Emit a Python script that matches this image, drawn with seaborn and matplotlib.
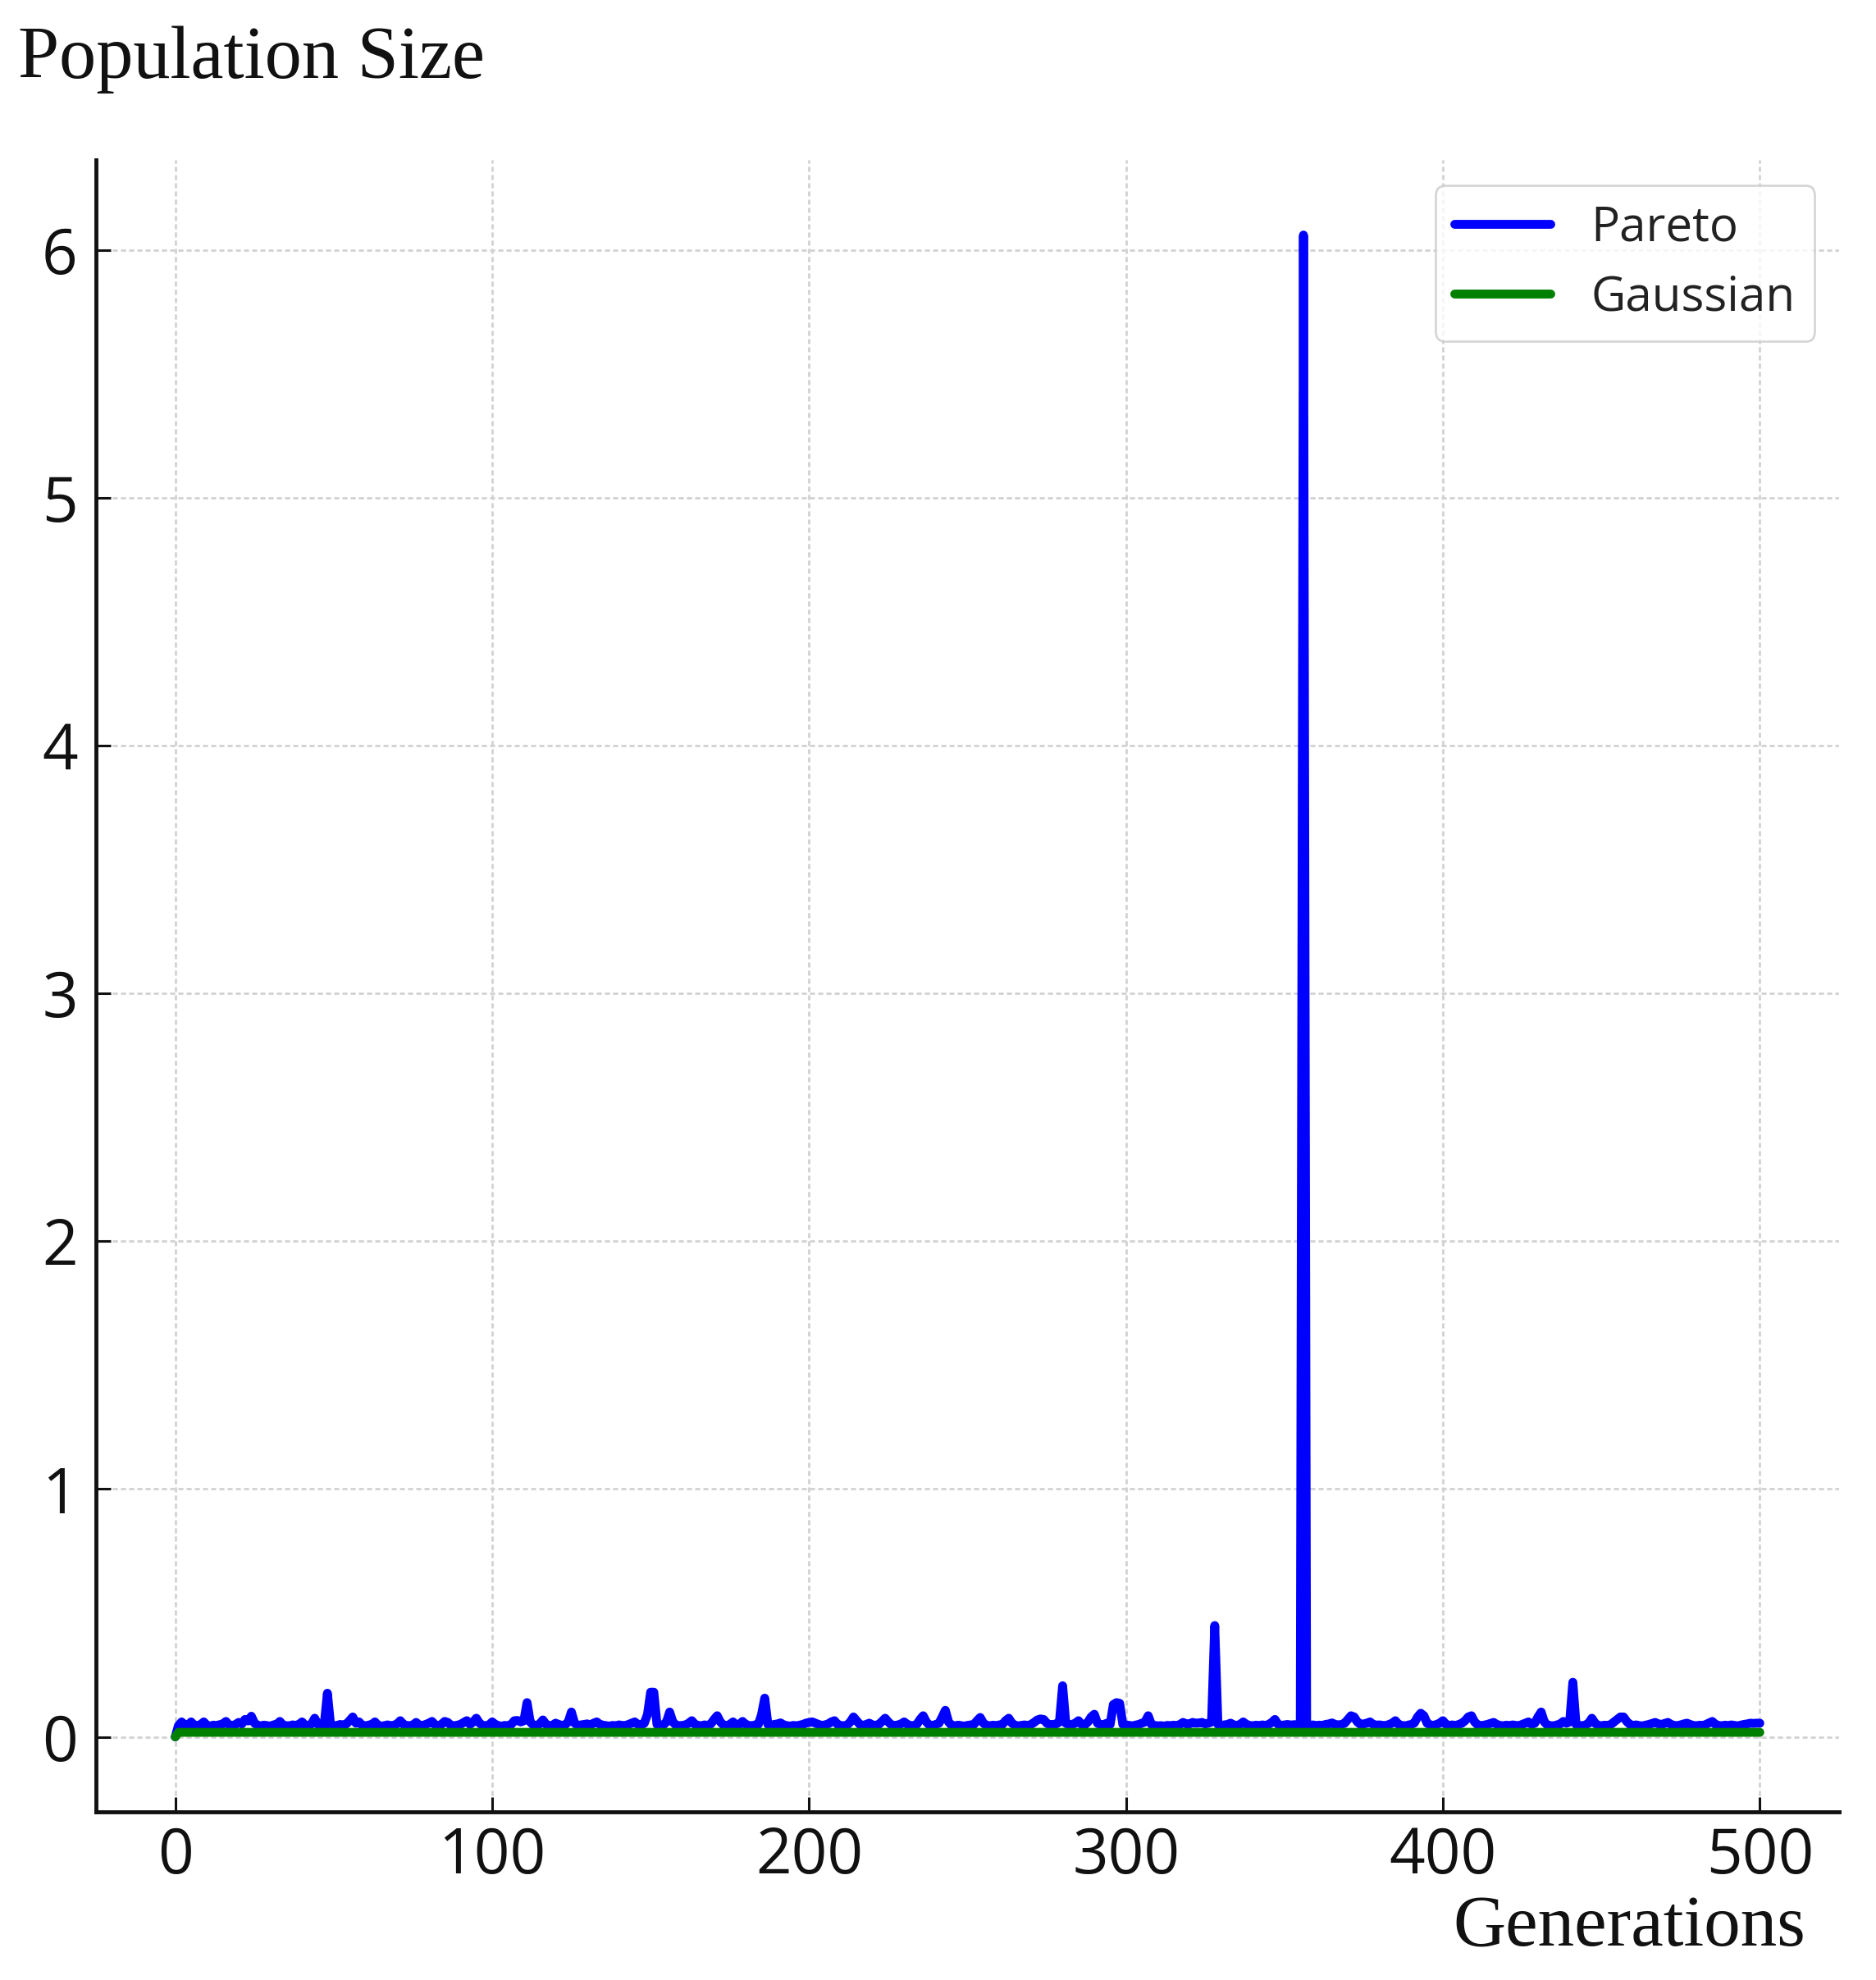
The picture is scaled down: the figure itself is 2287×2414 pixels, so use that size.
import numpy as np
import pandas as pd
import matplotlib
matplotlib.use("Agg")
import matplotlib.pyplot as plt
import seaborn as sns

# --------------------------------------------------------------
# Data (one value per generation, 0..500)
# --------------------------------------------------------------
generations = list(range(501))

pareto = [
    0.0, 0.045, 0.06, 0.048, 0.046, 0.06, 0.047, 0.044, 0.05, 0.06, 0.046, 0.043, 0.047, 0.045, 0.049, 0.052, 0.062, 0.047, 0.044, 0.05,
    0.058, 0.052, 0.07, 0.064, 0.083, 0.055, 0.046, 0.044, 0.047, 0.045, 0.043, 0.048, 0.05, 0.062, 0.047, 0.045, 0.044, 0.048, 0.046, 0.05,
    0.06, 0.047, 0.044, 0.052, 0.075, 0.05, 0.046, 0.048, 0.176, 0.048, 0.046, 0.044, 0.05, 0.047, 0.052, 0.065, 0.08, 0.055, 0.06, 0.046,
    0.044, 0.047, 0.05, 0.06, 0.046, 0.043, 0.045, 0.048, 0.044, 0.047, 0.052, 0.065, 0.05, 0.046, 0.044, 0.048, 0.058, 0.047, 0.045, 0.05,
    0.055, 0.062, 0.048, 0.045, 0.05, 0.062, 0.058, 0.046, 0.044, 0.047, 0.05, 0.058, 0.065, 0.05, 0.06, 0.075, 0.055, 0.046, 0.044, 0.048,
    0.06, 0.05, 0.045, 0.043, 0.046, 0.044, 0.05, 0.065, 0.066, 0.06, 0.065, 0.138, 0.06, 0.047, 0.045, 0.052, 0.068, 0.05, 0.044, 0.046,
    0.055, 0.05, 0.046, 0.048, 0.06, 0.10, 0.055, 0.046, 0.048, 0.05, 0.052, 0.048, 0.055, 0.06, 0.05, 0.047, 0.045, 0.043, 0.046, 0.044,
    0.048, 0.046, 0.045, 0.05, 0.055, 0.06, 0.05, 0.047, 0.055, 0.09, 0.18, 0.18, 0.05, 0.046, 0.048, 0.06, 0.10, 0.06, 0.047, 0.045,
    0.046, 0.048, 0.055, 0.065, 0.05, 0.046, 0.044, 0.048, 0.046, 0.052, 0.07, 0.085, 0.06, 0.047, 0.045, 0.05, 0.06, 0.048, 0.05, 0.062,
    0.05, 0.046, 0.044, 0.048, 0.05, 0.09, 0.156, 0.05, 0.046, 0.05, 0.052, 0.056, 0.048, 0.045, 0.043, 0.046, 0.044, 0.047, 0.05, 0.055,
    0.058, 0.06, 0.055, 0.05, 0.046, 0.048, 0.052, 0.06, 0.065, 0.05, 0.046, 0.044, 0.047, 0.06, 0.08, 0.065, 0.05, 0.046, 0.05, 0.055,
    0.048, 0.046, 0.05, 0.062, 0.075, 0.06, 0.048, 0.045, 0.048, 0.052, 0.06, 0.05, 0.046, 0.044, 0.05, 0.07, 0.085, 0.06, 0.047, 0.045,
    0.05, 0.055, 0.08, 0.107, 0.06, 0.046, 0.044, 0.047, 0.045, 0.043, 0.046, 0.048, 0.05, 0.065, 0.078, 0.055, 0.046, 0.044, 0.047, 0.045,
    0.048, 0.05, 0.065, 0.075, 0.055, 0.046, 0.044, 0.046, 0.048, 0.045, 0.05, 0.058, 0.068, 0.072, 0.07, 0.055, 0.048, 0.05, 0.052, 0.06,
    0.206, 0.055, 0.048, 0.05, 0.055, 0.065, 0.05, 0.048, 0.06, 0.08, 0.091, 0.055, 0.048, 0.05, 0.055, 0.05, 0.13, 0.138, 0.135, 0.05,
    0.048, 0.046, 0.044, 0.047, 0.05, 0.055, 0.06, 0.085, 0.05, 0.046, 0.044, 0.045, 0.043, 0.046, 0.045, 0.047, 0.044, 0.05, 0.058, 0.052,
    0.052, 0.058, 0.055, 0.056, 0.058, 0.052, 0.055, 0.06, 0.449, 0.05, 0.046, 0.048, 0.05, 0.055, 0.048, 0.046, 0.05, 0.06, 0.05, 0.046,
    0.044, 0.047, 0.045, 0.048, 0.046, 0.05, 0.058, 0.07, 0.05, 0.046, 0.048, 0.05, 0.047, 0.049, 0.048, 0.05, 6.06, 0.045, 0.046, 0.048,
    0.045, 0.047, 0.046, 0.05, 0.052, 0.056, 0.05, 0.048, 0.05, 0.055, 0.07, 0.085, 0.08, 0.06, 0.05, 0.052, 0.055, 0.06, 0.05, 0.047,
    0.048, 0.046, 0.045, 0.05, 0.055, 0.065, 0.05, 0.046, 0.044, 0.047, 0.05, 0.056, 0.08, 0.095, 0.085, 0.055, 0.048, 0.046, 0.05, 0.055,
    0.065, 0.05, 0.046, 0.048, 0.045, 0.05, 0.055, 0.065, 0.08, 0.085, 0.06, 0.048, 0.045, 0.047, 0.05, 0.054, 0.058, 0.05, 0.046, 0.044,
    0.047, 0.045, 0.048, 0.046, 0.044, 0.05, 0.055, 0.06, 0.05, 0.055, 0.08, 0.10, 0.06, 0.047, 0.045, 0.044, 0.048, 0.052, 0.062, 0.055,
    0.06, 0.22, 0.05, 0.046, 0.044, 0.048, 0.055, 0.075, 0.055, 0.046, 0.044, 0.047, 0.045, 0.05, 0.06, 0.07, 0.08, 0.08, 0.062, 0.05,
    0.046, 0.048, 0.045, 0.044, 0.047, 0.05, 0.054, 0.058, 0.052, 0.05, 0.054, 0.058, 0.05, 0.046, 0.045, 0.048, 0.052, 0.055, 0.05, 0.046,
    0.044, 0.047, 0.045, 0.05, 0.056, 0.062, 0.05, 0.046, 0.044, 0.047, 0.045, 0.048, 0.046, 0.044, 0.047, 0.05, 0.052, 0.055, 0.054, 0.055,
    0.055,
]

# Gaussian run sits flat just above zero after the first generation
gaussian = [0.0] + [0.018] * 500

series_names = ["Pareto", "Gaussian"]
series_colors = {"Pareto": "blue", "Gaussian": "green"}

x_ticks = [0, 100, 200, 300, 400, 500]
y_ticks = [0, 1, 2, 3, 4, 5, 6]

df = pd.DataFrame({
    "Generation": generations * 2,
    "Size": pareto + gaussian,
    "Run": ["Pareto"] * len(pareto) + ["Gaussian"] * len(gaussian),
})

# --------------------------------------------------------------
# Plot
# --------------------------------------------------------------
sns.set_theme(style="ticks")
plt.rcParams["font.family"] = ["Open Sans", "DejaVu Sans"]

fig = plt.figure(figsize=(22.87, 24.14), dpi=100)
ax = fig.add_axes([0.0512, 0.0849, 0.9291, 0.8343])

sns.lineplot(data=df, x="Generation", y="Size", hue="Run", hue_order=series_names,
             palette=series_colors, estimator=None, errorbar=None,
             linewidth=7.8, ax=ax)

ax.set_xticks(x_ticks)
ax.set_yticks(y_ticks)
ax.set_xlabel("")
ax.set_ylabel("")
ax.grid(True, color="#d2d2d2", linestyle=(0, (2.2, 1.4)), linewidth=2.0)
ax.set_axisbelow(True)
sns.despine(ax=ax)
for side in ["left", "bottom"]:
    ax.spines[side].set_linewidth(3.5)
    ax.spines[side].set_color("#111111")
ax.tick_params(axis="both", direction="in", length=13, width=2.2,
               labelsize=55, colors="#111111", pad=16)
ax.tick_params(axis="x", pad=12)

leg = ax.legend(loc="upper right", bbox_to_anchor=(0.986, 0.9846), borderaxespad=0,
                fontsize=42, handlelength=2.0, handletextpad=0.85, labelspacing=0.45,
                frameon=True, fancybox=True, framealpha=0.8, edgecolor="#cccccc")
leg.get_frame().set_linewidth(2.0)
for t in leg.get_texts():
    t.set_color("#222222")

fig.text(0.0095, 0.9606, "Population Size", family=["Liberation Serif", "DejaVu Serif"],
         fontsize=65, ha="left", va="baseline", color="#111111")
fig.text(0.9624, 0.0175, "Generations", family=["Liberation Serif", "DejaVu Serif"],
         fontsize=64, ha="right", va="baseline", color="#111111")

fig.savefig("out.png", dpi=100, facecolor="white")
